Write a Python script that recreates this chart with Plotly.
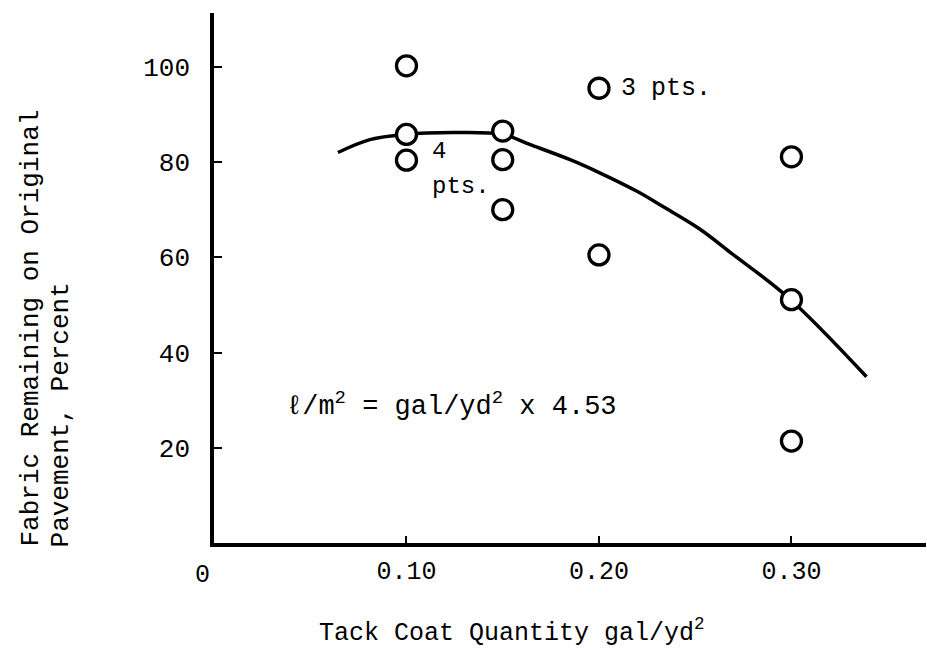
import plotly.graph_objects as go

# Measured data points
pts_x = [0.10, 0.10, 0.10, 0.15, 0.15, 0.15, 0.20, 0.20, 0.30, 0.30, 0.30]
pts_y = [100.2, 85.8, 80.4, 86.5, 80.5, 70.0, 95.5, 60.5, 81.1, 51.1, 21.4]

# Hand-drawn fitted curve
curve_x = [0.0644, 0.081, 0.0992, 0.124, 0.150, 0.164, 0.185, 0.199, 0.220, 0.233, 0.2525, 0.268, 0.299, 0.339]
curve_y = [82.0, 84.7, 85.8, 86.2, 85.8, 83.7, 80.5, 78.0, 73.8, 70.7, 65.9, 61.1, 51.3, 34.9]

x_ticks = [0.10, 0.20, 0.30]
x_ticktext = ["0.10", "0.20", "0.30"]
y_ticks = [20, 40, 60, 80, 100]

MONO = "Liberation Mono, Courier New, monospace"

fig = go.Figure()
fig.add_trace(go.Scatter(x=curve_x, y=curve_y, mode="lines",
                         line=dict(color="black", width=3.5, shape="spline", smoothing=1.0),
                         hoverinfo="skip", showlegend=False))
fig.add_trace(go.Scatter(x=pts_x, y=pts_y, mode="markers",
                         marker=dict(symbol="circle", size=20, color="white",
                                     line=dict(color="black", width=3.3)),
                         showlegend=False))

fig.update_layout(
    width=927, height=649,
    margin=dict(l=214, r=1, t=13, b=106),
    paper_bgcolor="white", plot_bgcolor="white",
    font=dict(family=MONO, color="black", size=24),
    xaxis=dict(range=[0, 0.3699], showgrid=False, zeroline=False,
               showline=True, linecolor="black", linewidth=3.5,
               ticks="inside", ticklen=7, tickwidth=2, tickcolor="black",
               tickvals=x_ticks, ticktext=x_ticktext,
               tickfont=dict(family=MONO, size=25), ticklabelstandoff=2),
    yaxis=dict(range=[0, 111.3], showgrid=False, zeroline=False,
               showline=True, linecolor="black", linewidth=3.5,
               ticks="inside", ticklen=8, tickwidth=2, tickcolor="black",
               tickvals=y_ticks,
               tickfont=dict(family=MONO, size=26), ticklabelstandoff=15),
)

ann = [
    dict(text="0", x=0, y=0, xref="x", yref="y", xshift=-12, yshift=-32,
         showarrow=False, font=dict(family=MONO, size=25)),
    dict(text="Tack Coat Quantity gal/yd<sup>2</sup>", x=0.155, y=0, xref="x", yref="y",
         yshift=-88, showarrow=False, font=dict(family=MONO, size=25)),
    dict(text="Fabric Remaining on Original", x=-0.257, y=-0.0113, xref="paper", yref="paper",
         xanchor="center", yanchor="bottom", textangle=-90, showarrow=False,
         font=dict(family=MONO, size=26)),
    dict(text="Pavement, Percent", x=-0.2135, y=-0.0113, xref="paper", yref="paper",
         xanchor="center", yanchor="bottom", textangle=-90, showarrow=False,
         font=dict(family=MONO, size=26)),
    dict(text="4", x=0.112, y=82.3, xref="x", yref="y", xanchor="left",
         showarrow=False, font=dict(family=MONO, size=24)),
    dict(text="pts.", x=0.112, y=74.8, xref="x", yref="y", xanchor="left",
         showarrow=False, font=dict(family=MONO, size=24)),
    dict(text="3 pts.", x=0.2105, y=95.5, xref="x", yref="y", xanchor="left",
         showarrow=False, font=dict(family=MONO, size=25)),
    dict(text="ℓ/m<sup>2</sup> = gal/yd<sup>2</sup> x 4.53", x=0.0364, y=29.0,
         xref="x", yref="y", xanchor="left", showarrow=False,
         font=dict(family=MONO, size=27)),
]
fig.update_layout(annotations=ann)

fig.write_html("out.html")
